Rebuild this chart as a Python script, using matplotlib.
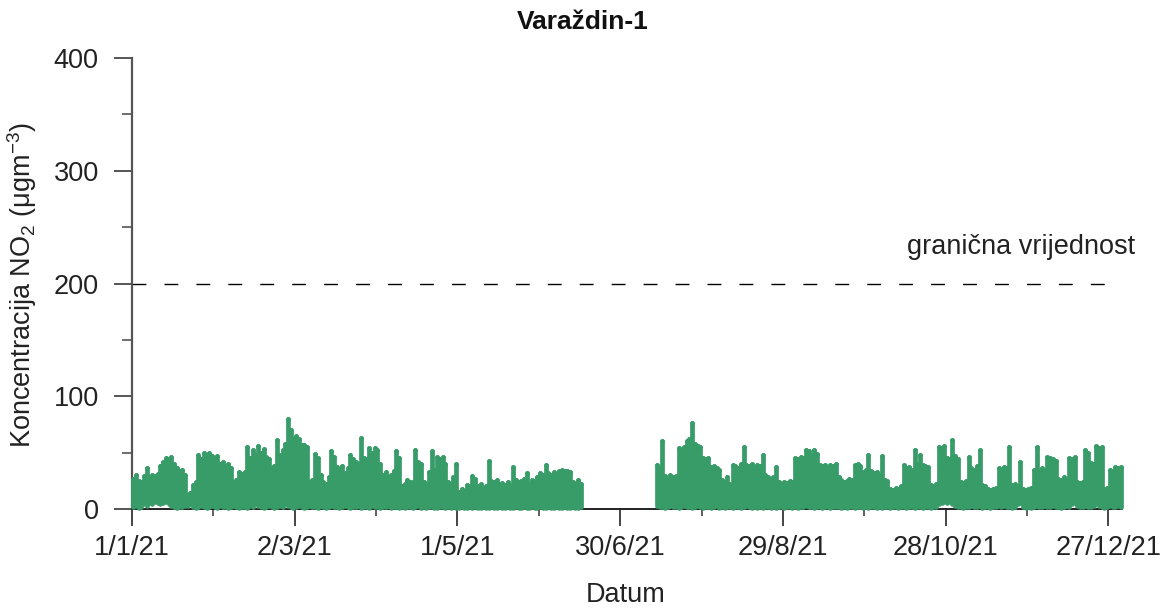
import numpy as np
import matplotlib.pyplot as plt

plt.rcParams['font.family'] = ['Liberation Sans', 'DejaVu Sans']
plt.rcParams['mathtext.fontset'] = 'custom'
plt.rcParams['mathtext.rm'] = 'Liberation Sans'
plt.rcParams['lines.scale_dashes'] = False

# dnevni raspon koncentracije NO2 (ugm-3), ocitano s grafa
# 1.1.2021. - 15.6.2021.
maks_1 = [27, 30, 25, 24, 29, 36, 28, 30, 29, 31,
          38, 42, 45, 44, 46, 40, 36, 34, 35, 30,
          12, 14, 21, 24, 48, 44, 50, 46, 50, 47,
          45, 47, 40, 42, 38, 40, 36, 24, 26, 33,
          31, 33, 55, 45, 52, 48, 56, 50, 53, 46,
          44, 36, 38, 61, 48, 52, 58, 80, 70, 62,
          65, 62, 57, 57, 55, 24, 26, 49, 45, 30,
          24, 22, 28, 51, 46, 37, 35, 38, 32, 36,
          48, 44, 42, 40, 63, 45, 44, 54, 50, 54,
          52, 40, 30, 33, 28, 30, 34, 51, 45, 20,
          22, 26, 24, 24, 52, 42, 40, 24, 22, 33,
          51, 35, 46, 44, 46, 40, 24, 22, 28, 40,
          15, 18, 16, 21, 20, 29, 27, 20, 22, 18,
          20, 43, 25, 24, 26, 22, 23, 21, 24, 20,
          37, 26, 24, 25, 27, 32, 22, 26, 25, 28,
          32, 30, 39, 32, 30, 33, 31, 34, 35, 34,
          34, 33, 24, 22, 26, 22]
mini_1 = [2, 3, 1, 2, 4, 3, 5, 4, 6, 5,
          4, 5, 6, 4, 3, 2, 1, 2, 2, 3,
          3, 4, 2, 1, 2, 3, 2, 1, 2, 3,
          2, 1, 3, 2, 2, 1, 2, 3, 2, 1,
          2, 2, 1, 3, 2, 4, 3, 2, 1, 2,
          3, 2, 1, 2, 3, 2, 4, 3, 2, 1,
          2, 3, 2, 1, 2, 3, 2, 2, 1, 3,
          2, 1, 2, 3, 2, 2, 1, 2, 3, 2,
          1, 2, 2, 3, 1, 2, 2, 1, 3, 2,
          2, 1, 2, 2, 3, 1, 2, 2, 1, 2,
          1, 2, 2, 1, 2, 3, 1, 2, 1, 2,
          2, 1, 1, 2, 2, 1, 2, 1, 2, 1,
          1, 2, 1, 1, 2, 1, 2, 1, 1, 2,
          1, 1, 2, 1, 1, 2, 1, 1, 2, 1,
          1, 2, 1, 1, 2, 1, 1, 2, 1, 1,
          2, 1, 1, 2, 1, 1, 2, 1, 1, 2,
          1, 1, 2, 1, 1, 2]

# 13.7.2021. - 31.12.2021.
maks_2 = [39, 36, 60, 29, 27, 30, 28,
          29, 54, 52, 55, 60, 62, 76, 58, 56, 55,
          45, 44, 45, 37, 38, 36, 35, 26, 24, 28,
          22, 39, 38, 36, 40, 55, 39, 38, 40, 37,
          39, 38, 48, 30, 28, 26, 28, 37, 24, 22,
          24, 23, 25, 24, 45, 44, 46, 45, 52, 51,
          48, 52, 49, 39, 38, 39, 36, 39, 38, 40,
          28, 26, 24, 25, 27, 26, 39, 40, 38, 33,
          35, 48, 34, 32, 33, 30, 47, 26, 25, 18,
          17, 19, 18, 20, 39, 36, 37, 35, 52, 40,
          48, 39, 38, 37, 21, 20, 22, 55, 54, 56,
          45, 44, 61, 47, 44, 24, 23, 25, 46, 36,
          35, 38, 52, 21, 20, 18, 17, 18, 19, 36,
          35, 37, 36, 55, 21, 22, 20, 42, 18, 17,
          18, 19, 35, 55, 34, 36, 35, 46, 45, 44,
          43, 27, 26, 28, 27, 45, 44, 46, 24, 23,
          24, 52, 50, 41, 40, 56, 54, 55, 18, 19,
          35, 34, 37, 36, 37]
mini_2 = [3, 2, 2, 1, 2, 3, 2,
          2, 1, 2, 3, 2, 2, 1, 2, 3, 2,
          1, 2, 2, 1, 2, 3, 1, 2, 1, 2,
          2, 1, 2, 2, 1, 2, 3, 2, 1, 2,
          1, 2, 1, 2, 2, 1, 2, 1, 2, 2,
          1, 2, 2, 1, 2, 1, 2, 2, 3, 2,
          2, 1, 2, 2, 1, 2, 2, 1, 2, 2,
          2, 1, 2, 1, 2, 2, 1, 2, 2, 1,
          2, 1, 2, 2, 1, 2, 1, 2, 2, 1,
          2, 2, 1, 2, 2, 1, 2, 2, 1, 2,
          2, 1, 2, 2, 1, 2, 2, 4, 5, 6,
          5, 6, 4, 3, 2, 2, 1, 2, 2, 3,
          2, 2, 3, 1, 2, 2, 1, 2, 2, 3,
          2, 3, 2, 2, 1, 2, 4, 5, 2, 1,
          2, 1, 2, 3, 2, 2, 3, 2, 2, 3,
          2, 2, 1, 2, 3, 2, 4, 5, 3, 2,
          2, 3, 2, 2, 3, 4, 3, 2, 1, 2,
          3, 2, 2, 3, 2]

pocetak_1 = '2021-01-01'
pocetak_2 = '2021-07-13'
granicna_vrijednost = 200

datumi_oznaka = ['2021-01-01', '2021-03-02', '2021-05-01', '2021-06-30',
                 '2021-08-29', '2021-10-28', '2021-12-27']
oznake = ['1/1/21', '2/3/21', '1/5/21', '30/6/21', '29/8/21', '28/10/21', '27/12/21']

zelena = '#389c69'
dan = np.timedelta64(1, 'D')
podne = np.timedelta64(12, 'h')

fig = plt.figure(figsize=(11.66, 6.12), dpi=100)
ax = fig.add_axes([132 / 1166, 1 - 509 / 612, 990 / 1166, 451 / 612])

for pocetak, maks, mini in [(pocetak_1, maks_1, mini_1), (pocetak_2, maks_2, mini_2)]:
    d = np.datetime64(pocetak) + np.arange(len(maks)) * dan + podne
    ax.vlines(d, mini, maks, color=zelena, lw=3.4, capstyle='round', clip_on=False, zorder=3)
    ax.scatter(d, maks, s=12, color=zelena, lw=0, clip_on=False, zorder=3)

# granicna vrijednost
ax.plot([np.datetime64('2021-01-01'), np.datetime64('2021-12-30')],
        [granicna_vrijednost, granicna_vrijednost],
        color='black', lw=1.0, dashes=(10, 13), zorder=2)
ax.text(1.013, 232, 'granična vrijednost', transform=ax.get_yaxis_transform(),
        ha='right', va='center', fontsize=19.5, color='#222222')

ax.set_xlim(np.datetime64('2021-01-01'), np.datetime64('2022-01-01'))
ax.set_ylim(0, 400)

ax.set_xticks([np.datetime64(x) for x in datumi_oznaka])
ax.set_xticklabels(oznake)
ax.set_xticks(np.arange(np.datetime64('2021-01-31'), np.datetime64('2022-01-01'), 60 * dan), minor=True)
ax.set_yticks([0, 100, 200, 300, 400])
ax.set_yticks([50, 150, 250, 350], minor=True)

for s in ['top', 'right']:
    ax.spines[s].set_visible(False)
ax.spines['left'].set_color('#555555')
ax.spines['left'].set_linewidth(1.6)
ax.spines['bottom'].set_color('#222222')
ax.spines['bottom'].set_linewidth(1.4)

ax.tick_params(axis='x', which='major', length=12, width=1.4, color='#444444',
               labelsize=19.5, pad=7, labelcolor='#222222')
ax.tick_params(axis='x', which='minor', length=5, width=1.2, color='#444444')
ax.tick_params(axis='y', which='major', length=13, width=1.4, color='#555555',
               labelsize=19.5, pad=11, labelcolor='#222222')
ax.tick_params(axis='y', which='minor', length=7, width=1.2, color='#555555')

fig.text(0.5, 1 - 22 / 612, 'Varaždin-1', ha='center', va='center',
         fontsize=19, fontweight='bold', color='#111111')
fig.text(626 / 1166, 1 - 595 / 612, 'Datum', ha='center', va='center',
         fontsize=19.5, color='#222222')
fig.text(22 / 1166, 1 - 285 / 612, r'Koncentracija NO$_\mathrm{2}$ (μgm$^\mathrm{-3}$)',
         ha='center', va='center', rotation=90, fontsize=19.5, color='#222222')

fig.savefig('out.png', dpi=100)
